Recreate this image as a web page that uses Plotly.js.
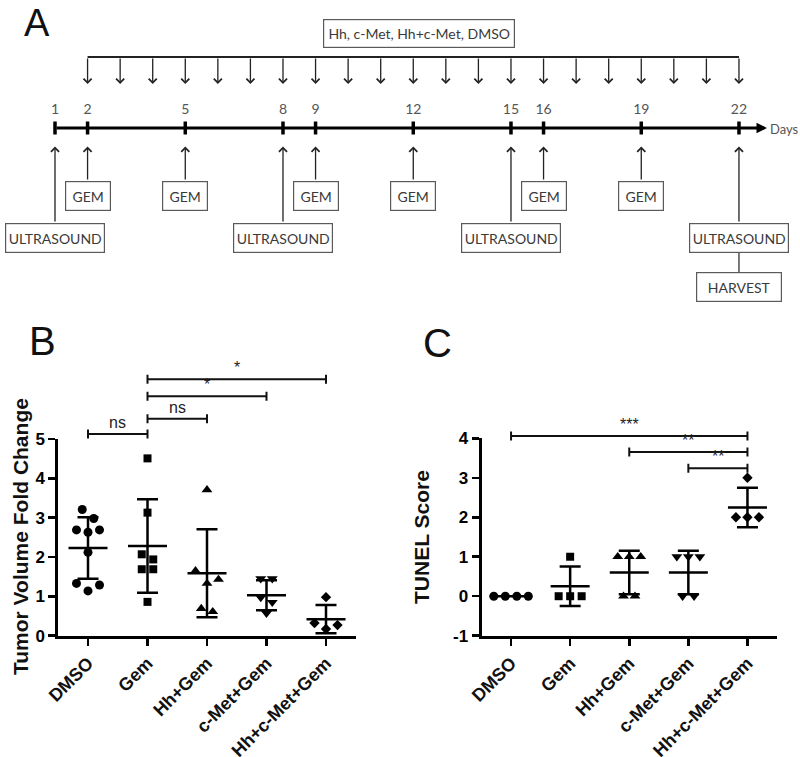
<!DOCTYPE html>
<html><head><meta charset="utf-8">
<script src="https://cdn.plot.ly/plotly-3.0.1.min.js"></script>
<style>html,body{margin:0;padding:0;background:#fff}#chart{width:800px;height:757px}</style>
</head><body><div id="chart"></div>
<script>
// ---------------- DATA ----------------
const groups = ['DMSO', 'Gem', 'Hh+Gem', 'c-Met+Gem', 'Hh+c-Met+Gem'];

// Panel B: tumor volume fold change (individual mice)
const volDMSO   = [3.21, 2.98, 2.69, 2.63, 2.69, 2.12, 1.33, 1.29, 1.14];
const volGem    = [4.51, 3.13, 2.07, 1.94, 1.69, 1.69, 0.86];
const volHh     = [3.71, 1.65, 1.43, 1.33, 0.69, 0.61];
const volCMet   = [1.45, 1.45, 0.97, 0.85, 0.57];
const volHhCMet = [0.98, 0.32, 0.27, 0.17];
const volMean   = [2.23, 2.28, 1.59, 1.03, 0.42];
const volSD     = [0.78, 1.19, 1.12, 0.38, 0.36];
const volTicks  = [0, 1, 2, 3, 4, 5];

// Panel C: TUNEL score
const tunelDMSO   = [0, 0, 0, 0];
const tunelGem    = [1, 0, 0, 0];
const tunelHh     = [1, 1, 1, 0, 0];
const tunelCMet   = [1, 1, 1, 0, 0];
const tunelHhCMet = [3, 2, 2, 2];
const tunelMean   = [0, 0.25, 0.6, 0.6, 2.25];
const tunelSD     = [0, 0.5, 0.55, 0.55, 0.5];
const tunelTicks  = [-1, 0, 1, 2, 3, 4];

// Significance comparisons (group indices) and labels
const sigBPairs  = [[0, 1], [1, 2], [1, 3], [1, 4]];
const sigBLabels = ['ns', 'ns', '*', '*'];
const sigCPairs  = [[0, 4], [2, 4], [3, 4]];
const sigCLabels = ['***', '**', '**'];

// Panel A: experimental timeline
const treatmentLabel = 'Hh, c-Met, Hh+c-Met, DMSO';
const treatmentDays  = [2, 3, 4, 5, 6, 7, 8, 9, 10, 11, 12, 13, 14, 15, 16, 17, 18, 19, 20, 21, 22];
const labeledDays    = [1, 2, 5, 8, 9, 12, 15, 16, 19, 22];
const gemDays        = [2, 5, 9, 12, 16, 19];
const ultrasoundDays = [1, 8, 15, 22];
const harvestDays    = [22];

// ---------------- LAYOUT HELPERS ----------------
const W = 800, H = 757;
const xd = (a, b) => [a / W, b / W];
const yd = (top, bot) => [1 - bot / H, 1 - top / H];
const FONT = 'Liberation Sans, Arial, sans-serif';
const AFONT = 'Lato, Calibri, sans-serif';

// Panel B geometry (px)
const B = {x0: 58.25, x1: 355.75, yTop: 439.1, yBot: 635.7, bTop: 345};
B.ppx = (B.x1 - B.x0) / 5; B.ppy = (B.yBot - B.yTop) / 5;
// Panel C geometry (px)
const C = {x0: 481.5, x1: 777, yTop: 438.3, yBot: 635.7, bTop: 400};
C.ppx = (C.x1 - C.x0) / 5; C.ppy = (C.yBot - C.yTop) / 5;
// Panel A geometry
const A = {day1px: 55, pxPerDay: 32.57, h: 310};
const bracketLevelsB = [5.13, 5.52, 6.09, 6.52];
const bracketLevelsC = [4.06, 3.65, 3.24];

// simple deterministic beeswarm: points close in value are spread in a centred row
function swarm(vals, ppy, ppx, spacingPx, thPx) {
  const idx = vals.map((v, i) => i).sort((a, b) => vals[b] - vals[a]);
  const off = new Array(vals.length).fill(0);
  const grps = []; let cur = [idx[0]];
  for (let k = 1; k < idx.length; k++) {
    if ((vals[idx[k - 1]] - vals[idx[k]]) * ppy < thPx) cur.push(idx[k]);
    else { grps.push(cur); cur = [idx[k]]; }
  }
  grps.push(cur);
  const s = spacingPx / ppx;
  grps.forEach(g => {
    const n = g.length;
    let slots = g.map((_, j) => (j - (n - 1) / 2) * s);
    if (n === 3) slots = [-s, s, 0];
    g.forEach((i, j) => off[i] = slots[j]);
  });
  return off;
}

const symbols = ['circle', 'square', 'triangle-up', 'triangle-down', 'diamond'];
const msizes  = [9, 8, 9.5, 9.5, 8];

function groupTraces(sets, means, sds, geo, xa, ya) {
  const tr = [];
  sets.forEach((vals, gi) => {
    const off = swarm(vals, geo.ppy, geo.ppx, 11.5, 9.6);
    tr.push({
      type: 'scatter', mode: 'markers', xaxis: xa, yaxis: ya, cliponaxis: false,
      x: vals.map((v, i) => gi + off[i]), y: vals,
      marker: {symbol: symbols[gi], size: msizes[gi], color: '#000'},
      hoverinfo: 'y'
    });
  });
  const lx = [], ly = [];
  const wm = 19.5 / geo.ppx, wc = 10.5 / geo.ppx;
  means.forEach((m, gi) => {
    lx.push(gi - wm, gi + wm, null); ly.push(m, m, null);
    const sd = sds[gi];
    if (sd > 0) {
      lx.push(gi, gi, null); ly.push(m - sd, m + sd, null);
      lx.push(gi - wc, gi + wc, null); ly.push(m + sd, m + sd, null);
      lx.push(gi - wc, gi + wc, null); ly.push(m - sd, m - sd, null);
    }
  });
  tr.push({type: 'scatter', mode: 'lines', xaxis: xa, yaxis: ya, cliponaxis: false,
    x: lx, y: ly, line: {color: '#000', width: 2.5}, hoverinfo: 'skip'});
  return tr;
}

function bracketTraces(pairs, labels, levels, geo, xa, ya, ann) {
  const bx = [], by = [];
  const t = 4.5 / geo.ppy;
  pairs.forEach((p, k) => {
    const [a, b] = p, l = levels[k];
    bx.push(a, b, null, a, a, null, b, b, null);
    by.push(l, l, null, l - t, l + t, null, l - t, l + t, null);
    ann.push({xref: xa, yref: ya, x: (a + b) / 2, y: l, text: labels[k],
      showarrow: false, yanchor: 'bottom', yshift: 1,
      font: {family: FONT, size: 16, color: '#222'}});
  });
  return {type: 'scatter', mode: 'lines', xaxis: xa, yaxis: ya, cliponaxis: false,
    x: bx, y: by, line: {color: '#111', width: 2}, hoverinfo: 'skip'};
}

const traces = [];
const annotations = [];

// ---- Panel B ----
traces.push(...groupTraces([volDMSO, volGem, volHh, volCMet, volHhCMet], volMean, volSD, B, 'x', 'y'));
traces.push(bracketTraces(sigBPairs, sigBLabels, bracketLevelsB, B, 'x', 'y3', annotations));
// ---- Panel C ----
traces.push(...groupTraces([tunelDMSO, tunelGem, tunelHh, tunelCMet, tunelHhCMet], tunelMean, tunelSD, C, 'x2', 'y2'));
traces.push(bracketTraces(sigCPairs, sigCLabels, bracketLevelsC, C, 'x2', 'y4', annotations));

// ---- Panel A ----
const yTopLine = 57, yDownTip = 84, yDayNum = 110, yTimeline = 128, yUpTip = 146.5;
const gemBox = {cy: 196, w: 46, h: 30}, usBox = {cy: 238, w: 100, h: 30}, hvBox = {cy: 287, w: 86, h: 30};
const boxColor = '#5a5a5a', textColor = '#3a3a3a', arrowColor = '#222';

traces.push({type: 'scatter', mode: 'lines', xaxis: 'x3', yaxis: 'y5',
  x: [treatmentDays[0], treatmentDays[treatmentDays.length - 1]], y: [yTopLine, yTopLine],
  line: {color: '#222', width: 2}, hoverinfo: 'skip'});
const tkx = [], tky = [];
labeledDays.forEach(d => { tkx.push(d, d, null); tky.push(yTimeline - 6.5, yTimeline + 6.5, null); });
traces.push({type: 'scatter', mode: 'lines', xaxis: 'x3', yaxis: 'y5', x: tkx, y: tky,
  line: {color: '#000', width: 3.5}, hoverinfo: 'skip'});
traces.push({type: 'scatter', mode: 'text', xaxis: 'x3', yaxis: 'y5',
  x: labeledDays, y: labeledDays.map(() => yDayNum), text: labeledDays.map(String),
  textposition: 'middle center', textfont: {family: AFONT, size: 14, color: '#555'}, hoverinfo: 'skip'});
harvestDays.forEach(d => traces.push({type: 'scatter', mode: 'lines', xaxis: 'x3', yaxis: 'y5',
  x: [d, d], y: [usBox.cy + usBox.h / 2, hvBox.cy - hvBox.h / 2],
  line: {color: '#333', width: 1.3}, hoverinfo: 'skip'}));

function arrow(x, y, ax, ay, head, width, size, color) {
  annotations.push({xref: 'x3', yref: 'y5', axref: 'x3', ayref: 'y5', x: x, y: y, ax: ax, ay: ay,
    text: '', showarrow: true, arrowhead: head, arrowwidth: width, arrowsize: size, arrowcolor: color});
}
function box(x, cy, w, h, text, xref) {
  annotations.push({xref: xref || 'x3', yref: 'y5', x: x, y: cy, text: text, showarrow: false,
    xanchor: 'center', yanchor: 'middle', width: w - 2, height: h - 2, borderpad: 0,
    bordercolor: boxColor, borderwidth: 1.2, bgcolor: '#fff',
    font: {family: AFONT, size: 14, color: textColor}});
}
// timeline
arrow(22.86, yTimeline, labeledDays[0], yTimeline, 2, 3, 0.7, '#000');
// daily treatment arrows
treatmentDays.forEach(d => arrow(d, yDownTip, d, yTopLine, 4, 1.3, 1.2, arrowColor));
// gem and ultrasound arrows
gemDays.forEach(d => arrow(d, yUpTip, d, gemBox.cy - gemBox.h / 2, 4, 1.3, 1.2, arrowColor));
ultrasoundDays.forEach(d => arrow(d, yUpTip, d, usBox.cy - usBox.h / 2, 4, 1.3, 1.2, arrowColor));
gemDays.forEach(d => box(d, gemBox.cy, gemBox.w, gemBox.h, 'GEM'));
ultrasoundDays.forEach(d => box(d, usBox.cy, usBox.w, usBox.h, 'ULTRASOUND'));
harvestDays.forEach(d => box(d, hvBox.cy, hvBox.w, hvBox.h, 'HARVEST'));
box(419 / W, 33, 192, 29, treatmentLabel, 'paper');
annotations.push({xref: 'paper', yref: 'y5', x: 768 / W, y: yTimeline + 1, text: 'Days', showarrow: false,
  xanchor: 'left', yanchor: 'middle', font: {family: AFONT, size: 13, color: '#555'}});

// panel letters
annotations.push({xref: 'paper', yref: 'paper', x: 37 / W, y: 1, text: 'A', showarrow: false,
  xanchor: 'center', yanchor: 'top', font: {family: FONT, size: 38, color: '#111'}});
[['B', 42.5, 341], ['C', 437.5, 342.5]].forEach(([t, x, y]) => annotations.push({
  xref: 'paper', yref: 'paper', x: x / W, y: 1 - y / H, text: t, showarrow: false,
  xanchor: 'center', yanchor: 'middle', font: {family: FONT, size: 40, color: '#111'}}));
// axis titles
[['Tumor Volume Fold Change', 20, 537], ['TUNEL Score', 421, 537]].forEach(([t, x, y]) => annotations.push({
  xref: 'paper', yref: 'paper', x: x / W, y: 1 - y / H, text: '<b>' + t + '</b>', showarrow: false, textangle: -90,
  xanchor: 'center', yanchor: 'middle', font: {family: FONT, size: 21, color: '#111'}}));

function catAxis(dom, anchor) {
  return {domain: dom, anchor: anchor, range: [-0.5, 4.5], tickmode: 'array',
    tickvals: groups.map((g, i) => i), ticktext: groups.map(g => '<b>' + g + '</b>'), tickangle: -45,
    tickfont: {family: FONT, size: 18, color: '#111'},
    ticks: 'outside', ticklen: 7, tickwidth: 2.5, tickcolor: '#000',
    showline: true, linewidth: 3, linecolor: '#000', showgrid: false, zeroline: false, fixedrange: true};
}
function valAxis(dom, anchor, range, tv) {
  return {domain: dom, anchor: anchor, range: range, tickmode: 'array', tickvals: tv,
    ticktext: tv.map(v => '<b>' + v + '</b>'),
    tickfont: {family: FONT, size: 17, color: '#000'},
    ticks: 'outside', ticklen: 7, tickwidth: 2.5, tickcolor: '#000',
    showline: true, linewidth: 3, linecolor: '#000', showgrid: false, zeroline: false, fixedrange: true};
}
const hidden = (dom, anchor, range) => ({domain: dom, anchor: anchor, range: range, visible: false, fixedrange: true});

const layout = {
  width: W, height: H, margin: {l: 0, r: 0, t: 0, b: 0},
  paper_bgcolor: '#fff', plot_bgcolor: 'rgba(0,0,0,0)', showlegend: false,
  xaxis: catAxis(xd(B.x0, B.x1), 'y'),
  yaxis: valAxis(yd(B.yTop, B.yBot), 'x', [0, 5], volTicks),
  yaxis3: hidden(yd(B.bTop, B.yBot), 'x', [0, (B.yBot - B.bTop) / B.ppy]),
  xaxis2: catAxis(xd(C.x0, C.x1), 'y2'),
  yaxis2: valAxis(yd(C.yTop, C.yBot), 'x2', [-1, 4], tunelTicks),
  yaxis4: hidden(yd(C.bTop, C.yBot), 'x2', [-1, -1 + (C.yBot - C.bTop) / C.ppy]),
  xaxis3: hidden([0, 1], 'y5', [1 - A.day1px / A.pxPerDay, 1 - A.day1px / A.pxPerDay + W / A.pxPerDay]),
  yaxis5: hidden(yd(0, A.h), 'x3', [A.h, 0]),
  annotations: annotations
};

Plotly.newPlot('chart', traces, layout, {staticPlot: true, displayModeBar: false});
</script>
</body></html>
